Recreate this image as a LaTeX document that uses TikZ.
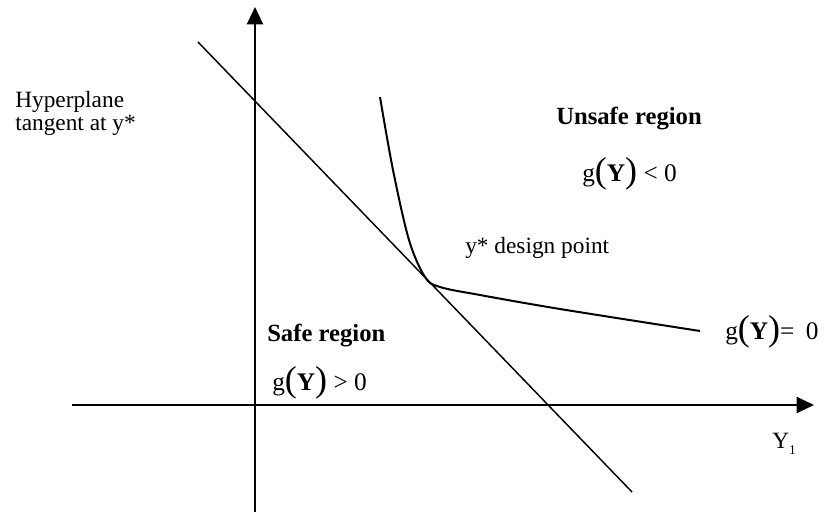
\documentclass[tikz,border=0pt]{standalone}
\usepackage{fontspec}
\setmainfont{Liberation Serif}
\usetikzlibrary{arrows.meta}
\tikzset{
  axis/.style={line width=1.6pt,-{Triangle[length=13pt,width=12pt]}},
  tangentline/.style={line width=1.1pt},
  limitcurve/.style={line width=1.5pt},
  lbl/.style={font=\fontsize{17.5}{17.3}\selectfont, inner sep=0pt},
  blbl/.style={font=\fontsize{18.5}{20}\selectfont\bfseries, inner sep=0pt},
  flbl/.style={font=\fontsize{19}{20}\selectfont, inner sep=0pt}
}
\newcommand{\gY}{g\raisebox{-0.12ex}{\fontsize{27}{27}\selectfont(}\textbf{Y}\raisebox{-0.12ex}{\fontsize{27}{27}\selectfont)}}
\begin{document}
\begin{tikzpicture}[x=0.75pt,y=-0.75pt]
\useasboundingbox (0,0) rectangle (827,514);
% axes
\coordinate (vb) at (255,512);
\coordinate (vt) at (255,7);
\coordinate (hl) at (72,405);
\coordinate (hr) at (814,405);
\draw[axis] (vb) -- (vt);
\draw[axis] (hl) -- (hr);
% tangent hyperplane
\coordinate (t1) at (198,42);
\coordinate (t2) at (632,492);
\draw[tangentline] (t1) -- (t2);
% limit state curve
\draw[limitcurve] plot[smooth, tension=0.55] coordinates
  {(380,97) (393,170) (409,240) (425,277) (440,287) (480,295) (560,309) (700,331)};
% labels
\node[lbl, anchor=west, align=left] (hyp) at (15,113) {Hyperplane\\tangent at y*};
\node[blbl, anchor=west] (unsafe) at (556,119) {Unsafe region};
\node[flbl, anchor=west] (glt) at (582,174) {\gY{} < 0};
\node[lbl, anchor=west] (dp) at (465,248) {y* design point};
\node[flbl, anchor=west] (geq) at (725,332) {\gY{}=\hspace{0.45em}0};
\node[blbl, anchor=west] (safe) at (267,336) {Safe region};
\node[flbl, anchor=west] (ggt) at (272,383) {\gY{} > 0};
\node[lbl, anchor=west] (y1) at (772,444) {Y\raisebox{-0.5ex}{\fontsize{10}{10}\selectfont 1}};
\end{tikzpicture}
\end{document}
